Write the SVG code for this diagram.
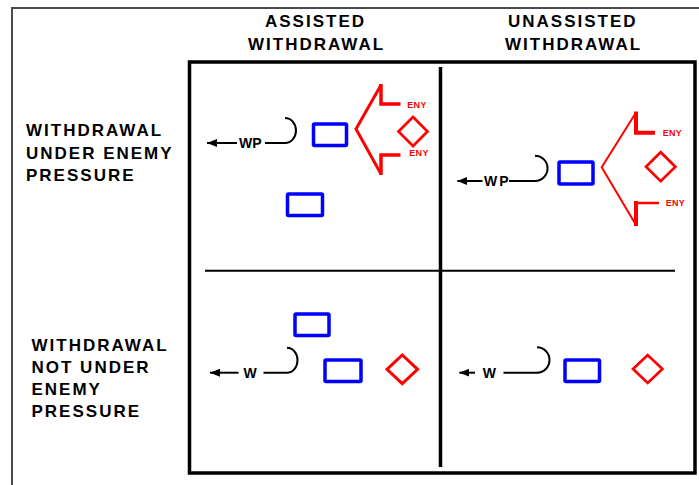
<svg xmlns="http://www.w3.org/2000/svg" width="699" height="485" viewBox="0 0 699 485">
<style>
.lbl{font-family:"Liberation Sans",Arial,sans-serif;font-weight:bold;font-size:17px;letter-spacing:2px;fill:#000}
.wp{font-family:"Liberation Sans",Arial,sans-serif;font-weight:bold;font-size:14px;fill:#000}
.eny{font-family:"Liberation Sans",Arial,sans-serif;font-weight:bold;font-size:9px;letter-spacing:0.3px;fill:#ff0000}
.unit{fill:none;stroke:#0000ff;stroke-width:3.5}
.dia{fill:none;stroke:#ff0000;stroke-width:2.7}
.fl{fill:none;stroke:#ff0000;stroke-linejoin:miter}
.ln{fill:none;stroke:#000;stroke-width:2}
.arc{fill:none;stroke:#000;stroke-width:2}
</style>
<defs>
<marker id="ah" markerWidth="10" markerHeight="8" refX="10" refY="4" orient="auto" markerUnits="userSpaceOnUse">
<path d="M0,0 L10,4 L0,8 Z" fill="#000"/>
</marker>
</defs>
<rect width="699" height="485" fill="#fff"/>
<g id="frame">
<path d="M12,485 V8 H699" fill="none" stroke="#4a4a4a" stroke-width="2"/>
</g>
<g id="headers">
<text class="lbl" x="265" y="27">ASSISTED</text>
<text class="lbl" x="248" y="50">WITHDRAWAL</text>
<text class="lbl" x="508" y="27">UNASSISTED</text>
<text class="lbl" x="505" y="50">WITHDRAWAL</text>
</g>
<g id="row-labels">
<text class="lbl" x="26" y="136">WITHDRAWAL</text>
<text class="lbl" x="26" y="159">UNDER ENEMY</text>
<text class="lbl" x="26" y="181">PRESSURE</text>
<text class="lbl" x="31.5" y="350.5">WITHDRAWAL</text>
<text class="lbl" x="31.5" y="373">NOT UNDER</text>
<text class="lbl" x="31.5" y="395">ENEMY</text>
<text class="lbl" x="31.5" y="416.5">PRESSURE</text>
</g>
<g id="grid">
<rect x="189.5" y="62" width="505.5" height="411" fill="none" stroke="#000" stroke-width="3.5"/>
<line x1="440.5" y1="67" x2="440.5" y2="467" stroke="#000" stroke-width="3.5"/>
<line x1="205" y1="270.7" x2="675" y2="270.7" stroke="#000" stroke-width="2"/>
</g>
<g id="q1">
<g id="q1-unit-a"><rect class="unit" x="313.5" y="124" width="33" height="21.5" rx="1"/></g>
<g id="q1-unit-b"><rect class="unit" x="287.5" y="194" width="35" height="21.5" rx="1"/></g>
<g id="q1-enemy">
<path class="fl" stroke-width="3" d="M381,85 L356,129 L381,174"/>
<path class="fl" stroke-width="3.5" d="M381,84 V104 H400.5"/>
<path class="fl" stroke-width="3.5" d="M381,175 V155 H400.5"/>
<polygon class="dia" points="398.5,131.5 413,117 427.5,131.5 413,146"/>
<text class="eny" x="407.3" y="108">ENY</text>
<text class="eny" x="409.3" y="156">ENY</text>
</g>
</g>
<g id="q2">
<g id="q2-unit"><rect class="unit" x="559" y="162" width="34" height="22" rx="1"/></g>
<g id="q2-enemy">
<path class="fl" stroke-width="2" d="M636,112.5 L601.7,167.3 L636,225"/>
<path class="fl" stroke-width="4" d="M636,111.5 V132.7 H655"/>
<path class="fl" stroke-width="4" d="M636,226 V203 H638"/>
<path class="fl" stroke-width="2.5" d="M636,203 H659"/>
<polygon class="dia" points="646,166.7 660.7,152.2 675.4,166.7 660.7,181.2"/>
<text class="eny" x="662.7" y="136">ENY</text>
<text class="eny" x="665.7" y="206">ENY</text>
</g>
</g>
<g id="q3">
<g id="q3-unit-a"><rect class="unit" x="295" y="314" width="34" height="21.5" rx="1"/></g>
<g id="q3-unit-b"><rect class="unit" x="325" y="360" width="36" height="21.5" rx="1"/></g>
<g id="q3-enemy"><polygon class="dia" points="387,369.3 402.3,355 417.6,369.3 402.3,383.6" style="stroke-width:3"/></g>
</g>
<g id="q4">
<g id="q4-unit"><rect class="unit" x="565" y="360" width="34.5" height="21.5" rx="1"/></g>
<g id="q4-enemy"><polygon class="dia" points="633,369 647.7,355 662.4,369 647.7,383"/></g>
</g>
<g id="connectors">
<g id="c1">
<line class="ln" x1="237" y1="143" x2="207" y2="143" marker-end="url(#ah)"/>
<text class="wp" x="239" y="147.5">WP</text>
<path class="arc" d="M265,143 H285 A11 12.5 0 0 0 285,118"/>
</g>
<g id="c2">
<line class="ln" x1="482.5" y1="181" x2="457.3" y2="181" marker-end="url(#ah)"/>
<text class="wp" x="484" y="186" style="letter-spacing:2px">WP</text>
<path class="arc" d="M509,181 H535 A12.5 12.6 0 0 0 535,155.7"/>
</g>
<g id="c3">
<line class="ln" x1="238.5" y1="372.7" x2="210" y2="372.7" marker-end="url(#ah)"/>
<text class="wp" x="243.5" y="377.5">W</text>
<path class="arc" d="M263.5,372.7 H287 A10.5 12.5 0 0 0 287,347.7"/>
</g>
<g id="c4">
<line class="ln" x1="475" y1="372.7" x2="459.3" y2="372.7" marker-end="url(#ah)"/>
<text class="wp" x="482.7" y="377.5">W</text>
<path class="arc" d="M503.5,372.7 H537 A12.5 12.7 0 0 0 537,347.3"/>
</g>
</g>
</svg>
